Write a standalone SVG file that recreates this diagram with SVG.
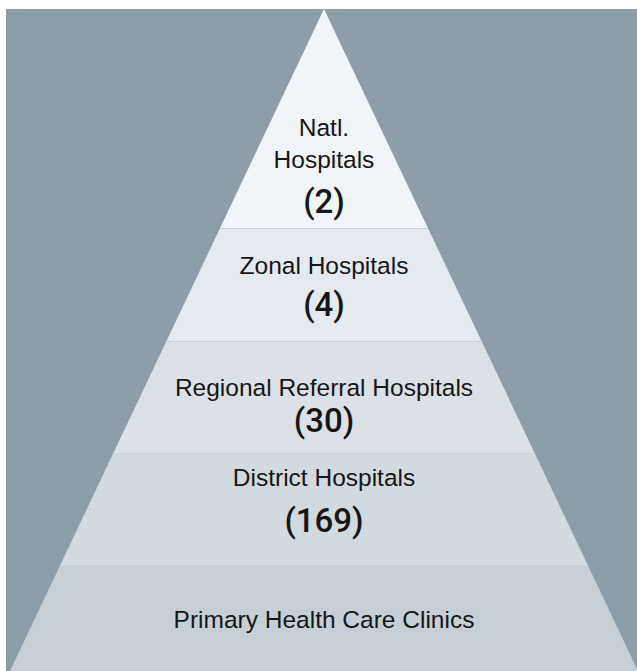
<svg xmlns="http://www.w3.org/2000/svg" width="637" height="671" viewBox="0 0 637 671">
  <style>
    .lbl { font-family: "Liberation Sans", Arial, sans-serif; font-size: 24.5px; fill: #161616; text-anchor: middle; }
    .num { font-family: Roboto, "Liberation Sans", sans-serif; font-size: 33px; font-weight: 500; fill: #161616; text-anchor: middle; }
    .sep { stroke: #c9d0d7; stroke-width: 1; }
  </style>
  <rect x="0" y="0" width="637" height="671" fill="#ffffff"/>
  <rect id="background" x="6" y="9" width="631" height="662" fill="#8d9ea9"/>
  <g id="tier-national">
    <polygon points="324,9 427.9,228 220.1,228" fill="#f1f4f9"/>
    <text class="lbl" x="324" y="136">Natl.</text>
    <text class="lbl" x="324" y="168">Hospitals</text>
    <text class="num" x="324" y="213">(2)</text>
  </g>
  <g id="tier-zonal">
    <polygon points="220.1,228 427.9,228 481.5,341 166.5,341" fill="#e5e9f0"/>
    <line class="sep" x1="220.1" y1="228.5" x2="427.9" y2="228.5"/>
    <text class="lbl" x="324" y="274">Zonal Hospitals</text>
    <text class="num" x="324" y="316">(4)</text>
  </g>
  <g id="tier-regional">
    <polygon points="166.5,341 481.5,341 534.6,453 113.4,453" fill="#dce1e7"/>
    <line class="sep" x1="166.5" y1="341.5" x2="481.5" y2="341.5"/>
    <text class="lbl" x="324" y="396">Regional Referral Hospitals</text>
    <text class="num" x="324" y="432">(30)</text>
  </g>
  <g id="tier-district">
    <polygon points="113.4,453 534.6,453 587.7,565 60.3,565" fill="#d2d9df"/>
    <line class="sep" x1="113.4" y1="453.5" x2="534.6" y2="453.5"/>
    <text class="lbl" x="324" y="486">District Hospitals</text>
    <text class="num" x="324" y="532">(169)</text>
  </g>
  <g id="tier-primary">
    <polygon points="60.3,565 587.7,565 638,671 10,671" fill="#c6cfd6"/>
    <line class="sep" x1="60.3" y1="565.5" x2="587.7" y2="565.5"/>
    <text class="lbl" x="324" y="628">Primary Health Care Clinics</text>
  </g>
  <g id="connectors"/>
</svg>
